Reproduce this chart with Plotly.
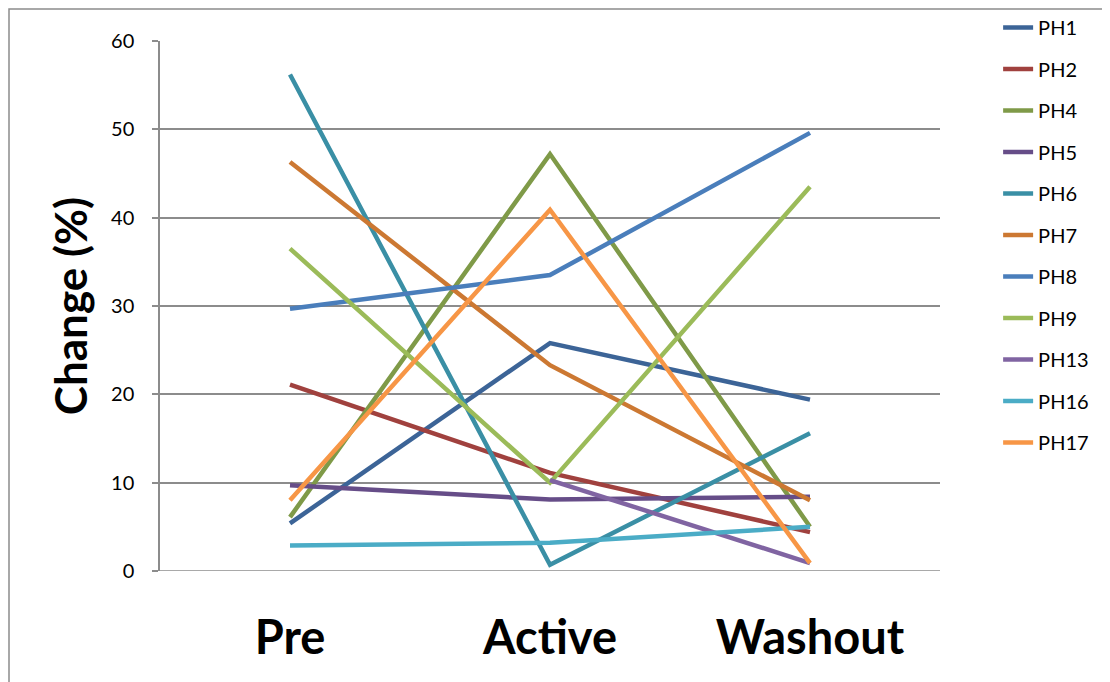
import plotly.graph_objects as go

# fasi del test
fasi = ["Pre", "Active", "Washout"]

# variazione percentuale per soggetto
ph1 = [5.4, 25.8, 19.4]
ph2 = [21.1, 11.1, 4.4]
ph4 = [6.1, 47.2, 5.0]
ph5 = [9.7, 8.1, 8.4]
ph6 = [56.2, 0.7, 15.6]
ph7 = [46.3, 23.3, 8.0]
ph8 = [29.7, 33.5, 49.6]
ph9 = [36.5, 10.0, 43.5]
ph13 = [None, 10.3, 0.9]
ph16 = [2.9, 3.2, 5.0]
ph17 = [8.0, 40.9, 0.9]

serie = [
    ("PH1", ph1, "#3C6497"),
    ("PH2", ph2, "#A0413E"),
    ("PH4", ph4, "#7F9A48"),
    ("PH5", ph5, "#664D88"),
    ("PH6", ph6, "#3A8FA5"),
    ("PH7", ph7, "#CC7832"),
    ("PH8", ph8, "#4A7EBB"),
    ("PH9", ph9, "#9BBB59"),
    ("PH13", ph13, "#8064A2"),
    ("PH16", ph16, "#4BACC6"),
    ("PH17", ph17, "#F79646"),
]

FONT = "Lato, 'Open Sans', sans-serif"

# area del grafico (px), la pagina aggiunge 8px di margine al body
L, T, PW, PH = 152, 33, 780, 530

fig = go.Figure()
for nome, valori, colore in serie:
    fig.add_trace(go.Scatter(
        x=fasi, y=valori, name=nome, mode="lines",
        legendgroup=nome,
        line=dict(color=colore, width=4.5),
    ))

fig.update_layout(
    width=1110, height=682,
    margin=dict(l=L, r=1110 - L - PW, t=T, b=682 - T - PH, autoexpand=False),
    paper_bgcolor="white", plot_bgcolor="white",
    font=dict(family=FONT, color="black"),
    showlegend=True,
    legend=dict(
        xref="container", yref="container",
        x=0.892, y=1.0, xanchor="left", yanchor="top",
        font=dict(size=20, family=FONT),
        tracegroupgap=12.5,
        maxheight=660,
        bgcolor="rgba(0,0,0,0)",
    ),
    xaxis=dict(
        range=[-0.5, 2.5],
        showgrid=False, showline=False, zeroline=False,
        tickfont=dict(size=47, family=FONT, color="black", weight="bold"),
        ticklabelstandoff=35, ticks="",
    ),
    yaxis=dict(
        range=[0, 60], dtick=10, tick0=0,
        showgrid=True, gridcolor="#8C8C8C", gridwidth=1.5,
        showline=True, linecolor="#8C8C8C", linewidth=1.5,
        ticks="outside", ticklen=6, tickcolor="#8C8C8C", tickwidth=1.5,
        zeroline=False,
        tickfont=dict(size=20, family=FONT, color="black"),
        ticklabelstandoff=14,
        title=dict(text="<b>Change (%)</b>", font=dict(size=44, family=FONT), standoff=10),
    ),
)

# linea dello zero e cornice del grafico
fig.add_shape(type="line", xref="paper", yref="y", x0=0, x1=1, y0=0, y1=0,
              line=dict(color="#8C8C8C", width=1.5), layer="below")
fig.add_shape(type="rect", xref="paper", yref="paper",
              x0=(1 - L) / PW, x1=1.5, y0=-0.5, y1=1 + (T - 1) / PH,
              line=dict(color="#8C8C8C", width=1.5), layer="below")

fig.write_html("out.html")
